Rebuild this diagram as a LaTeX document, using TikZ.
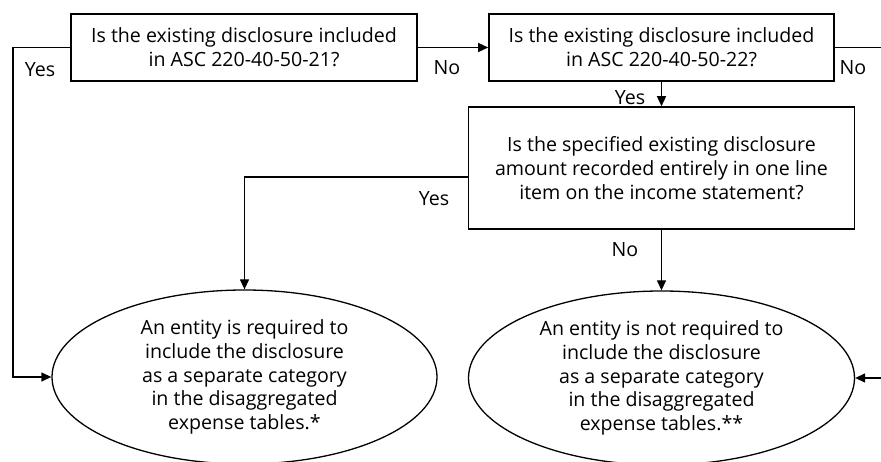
\documentclass[tikz,border=0pt]{standalone}
\usepackage{fontspec}
\setmainfont{Open Sans}
\usetikzlibrary{shapes.geometric,arrows.meta}

\begin{document}
\begin{tikzpicture}
    [x=1pt,y=-1pt,>={Triangle[length=10pt,width=9pt]},line width=1.3pt,
     every node/.style={font=\fontsize{19.6}{23.8}\selectfont, align=center},
     question/.style={draw, line width=1.6pt, inner sep=0pt},
     outcome/.style={draw, ellipse, line width=1.3pt, inner sep=0pt}]
    \useasboundingbox (0,0) rectangle (881,462);

    \node[question, minimum width=346pt, minimum height=67pt] (q1) at (244, 47.5)
        {Is the existing disclosure included\\in ASC 220-40-50-21?};
    \node[question, minimum width=345pt, minimum height=67pt] (q2) at (661.5, 47.5)
        {Is the existing disclosure included\\in ASC 220-40-50-22?};
    \node[question, minimum width=386pt, minimum height=122pt] (q3) at (661.5, 168)
        {Is the specified existing disclosure\\amount recorded entirely in one line\\item on the income statement?};

    \node[outcome, minimum width=385pt, minimum height=174pt] (r1) at (244.5, 377)
        {An entity is required to\\include the disclosure\\as a separate category\\in the disaggregated\\expense tables.*};
    \node[outcome, minimum width=386pt, minimum height=174pt] (r2) at (661.5, 378)
        {An entity is not required to\\include the disclosure\\as a separate category\\in the disaggregated\\expense tables.**};

    \coordinate (cL) at (13, 377);
    \coordinate (cR) at (895, 378);

    \draw[->] (q1.west) -| (cL) -- (r1.west);
    \draw[->] (q1.east) -- (q2.west);
    \draw[->] (q2.east) -| (cR) -- (r2.east);
    \draw[->] (q2.south) -- (q3.north);
    \draw[->] ([yshift=-9pt]q3.west) -| (r1.north);
    \draw[->] (q3.south) -- (r2.north);

    \node (yes1) at (40, 70) {Yes};
    \node (no1) at (447, 68) {No};
    \node (no2) at (853, 68) {No};
    \node (yes2) at (630, 98) {Yes};
    \node (yes3) at (434, 199) {Yes};
    \node (no3) at (625, 250) {No};
  \end{tikzpicture}
\end{document}
